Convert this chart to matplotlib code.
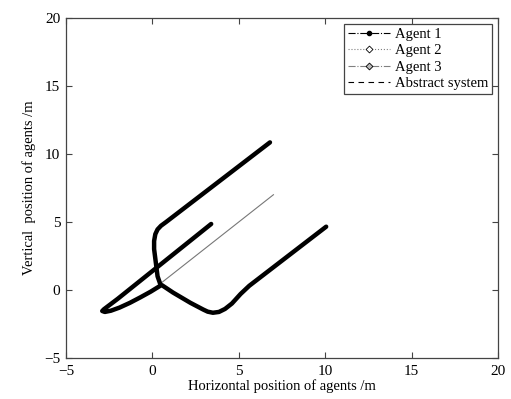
import matplotlib
matplotlib.use("Agg")
import matplotlib.pyplot as plt
from matplotlib.lines import Line2D

# Trajectories (metres)
agent1_x = [0.45, 0.3, 0.2, 0.1, 0.1, 0.17, 0.3, 0.5, 0.8, 6.8]
agent1_y = [0.45, 1.0, 2.0, 3.0, 3.6, 4.1, 4.45, 4.72, 5.0, 10.85]

agent2_x = [0.45, -0.1, -0.7, -1.3, -1.9, -2.4, -2.75, -2.9, -2.8, -2.0, 3.4]
agent2_y = [0.3, -0.13, -0.55, -0.95, -1.3, -1.53, -1.62, -1.55, -1.42, -0.65, 4.85]

agent3_x = [0.55, 1.2, 2.2, 2.95, 3.2, 3.5, 3.85, 4.2, 4.6, 5.1, 5.6, 10.05]
agent3_y = [0.35, -0.2, -0.95, -1.45, -1.6, -1.68, -1.62, -1.4, -1.0, -0.3, 0.3, 4.65]

abstract_x = [0.4, 7.0]
abstract_y = [0.4, 7.0]

x_ticks = [-5, 0, 5, 10, 15, 20]
y_ticks = [-5, 0, 5, 10, 15, 20]

plt.rcParams["font.family"] = ["Liberation Serif", "DejaVu Serif"]

fig = plt.figure(figsize=(5.11, 3.99), dpi=100)
ax = fig.add_axes([0.129, 0.103, 0.846, 0.852])

ax.plot(abstract_x, abstract_y, color="#777777", linewidth=0.8)
for xs, ys in [(agent1_x, agent1_y), (agent2_x, agent2_y), (agent3_x, agent3_y)]:
    ax.plot(xs, ys, color="black", linewidth=3.2, solid_capstyle="round",
            solid_joinstyle="round")

ax.set_xlim(-5, 20)
ax.set_ylim(-5, 20)
ax.set_xticks(x_ticks)
ax.set_yticks(y_ticks)
ax.set_xticklabels([str(t).replace("-", "\u2212") for t in x_ticks])
ax.set_yticklabels([str(t).replace("-", "\u2212") for t in y_ticks])
ax.tick_params(direction="in", top=True, right=True, length=4, width=0.8,
               labelsize=11, color="#444444")
ax.tick_params(axis="x", pad=5)
ax.tick_params(axis="y", pad=4)
for spine in ax.spines.values():
    spine.set_color("#444444")
    spine.set_linewidth(0.9)

ax.set_xlabel("Horizontal position of agents /m", fontsize=10.5, labelpad=1)
ax.set_ylabel("Vertical  position of agents /m", fontsize=10.5, labelpad=6)

handles = [
    Line2D([], [], color="black", linestyle="-.", linewidth=0.8,
           marker="o", markersize=3, markerfacecolor="black"),
    Line2D([], [], color="gray", linestyle=":", linewidth=0.8,
           marker="D", markersize=3.5, markerfacecolor="white",
           markeredgecolor="black", markeredgewidth=0.6),
    Line2D([], [], color="gray", linestyle="-.", linewidth=0.8,
           marker="D", markersize=3.5, markerfacecolor="#bbbbbb",
           markeredgecolor="black", markeredgewidth=0.6),
    Line2D([], [], color="black", linestyle=(0, (5, 4)), linewidth=0.8),
]
labels = ["Agent 1", "Agent 2", "Agent 3", "Abstract system"]
leg = ax.legend(handles, labels, loc="upper right", fontsize=10.5,
                frameon=True, fancybox=False, edgecolor="#444444",
                framealpha=1, handlelength=2.9, handletextpad=0.3,
                labelspacing=0.2, borderpad=0.3, borderaxespad=0.4)
leg.get_frame().set_linewidth(0.9)

fig.savefig("out.png", dpi=100)
